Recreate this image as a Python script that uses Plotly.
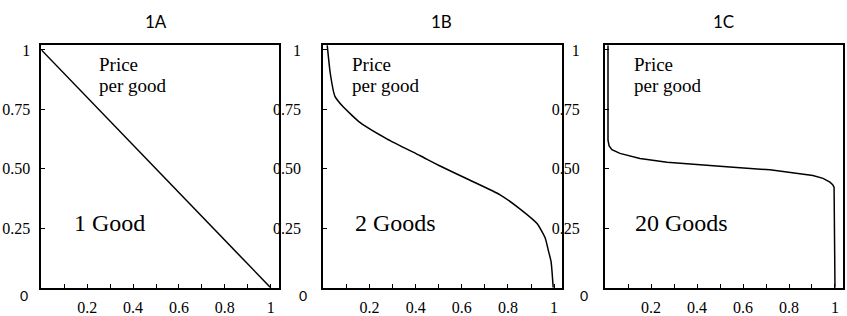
import plotly.graph_objects as go

# ---- data ----
titles = ["1A", "1B", "1C"]
labels = ["1 Good", "2 Goods", "20 Goods"]

share_1 = [0.0, 1.0]
price_1 = [1.0, 0.0]

share_2 = [0.017, 0.03, 0.05, 0.085, 0.16, 0.277, 0.42, 0.506, 0.636, 0.766, 0.853,
           0.926, 0.961, 0.974, 0.987, 0.996]
price_2 = [1.02, 0.903, 0.806, 0.762, 0.694, 0.625, 0.555, 0.512, 0.452, 0.391, 0.331,
           0.27, 0.21, 0.161, 0.109, 0.0]

share_20 = [0.013, 0.013, 0.018, 0.03, 0.065, 0.152, 0.27, 0.413, 0.543, 0.717, 0.904,
            0.948, 0.978, 0.99, 0.996, 1.0]
price_20 = [1.02, 0.621, 0.596, 0.581, 0.565, 0.544, 0.528, 0.516, 0.508, 0.496, 0.472,
            0.46, 0.444, 0.433, 0.423, 0.0]

x_tickvals = [0.1, 0.2, 0.3, 0.4, 0.5, 0.6, 0.7, 0.8, 0.9, 1.0]
x_ticktext = ["", "0.2", "", "0.4", "", "0.6", "", "0.8", "", "1"]
y_tickvals = [0.25, 0.5, 0.75, 1.0]
y_ticktext = ["0.25", "0.50", "0.75", "1"]

series = [(share_1, price_1), (share_2, price_2), (share_20, price_20)]

# ---- layout geometry ----
W, H = 847, 316
x_domains = [[0.04888, 0.32975], [0.3817, 0.6632], [0.7143, 0.9956]]
x_ranges = [[0, 1.0375], [0, 1.033], [0, 1.036]]
y_domain = [0.0601, 0.8608]
y_range = [0, 1.02]
y_standoff = [6, 17, 20]
title_x = [0.1838, 0.5207, 0.8542]
zero_x = [0.028, 0.358, 0.689]
price_x = [0.244, 0.116, 0.116]
label_x = [0.132, 0.127, 0.123]
line_shape = ["linear", "spline", "linear"]

serif = "Liberation Serif, Times New Roman, serif"
sans = "Lato, Carlito, sans-serif"

fig = go.Figure()
layout = dict(
    width=W, height=H, margin=dict(l=0, r=0, t=0, b=0),
    paper_bgcolor="white", plot_bgcolor="white", showlegend=False,
)
annotations = []
for i, (xs, ys) in enumerate(series):
    n = "" if i == 0 else str(i + 1)
    fig.add_trace(go.Scatter(x=xs, y=ys, mode="lines", xaxis="x" + n, yaxis="y" + n,
                             line=dict(color="black", width=1.5, shape=line_shape[i],
                                       smoothing=0.5),
                             hoverinfo="skip"))
    layout["xaxis" + n] = dict(
        domain=x_domains[i], range=x_ranges[i], anchor="y" + n,
        showgrid=False, zeroline=False, showline=True, mirror=True,
        linecolor="black", linewidth=2, ticks="inside", ticklen=4, tickwidth=1.3,
        tickcolor="black", tickvals=x_tickvals, ticktext=x_ticktext,
        ticklabelstandoff=4,
        tickfont=dict(family=serif, size=16, color="black"),
    )
    layout["yaxis" + n] = dict(
        domain=y_domain, range=y_range, anchor="x" + n,
        showgrid=False, zeroline=False, showline=True, mirror=True,
        linecolor="black", linewidth=2, ticks="inside", ticklen=4, tickwidth=1.3,
        tickcolor="black", tickvals=y_tickvals, ticktext=y_ticktext,
        ticklabelstandoff=y_standoff[i],
        tickfont=dict(family=serif, size=16, color="black"),
    )
    xr, yr = "x" + n, "y" + n
    annotations += [
        dict(text=titles[i], x=title_x[i], y=0.94, xref="paper", yref="paper",
             xanchor="center", yanchor="middle",
             showarrow=False, font=dict(family=sans, size=17, color="black")),
        dict(text="0", x=zero_x[i], y=0.0, xref="paper", yref="paper",
             xanchor="center", yanchor="bottom",
             showarrow=False, font=dict(family=sans, size=14, color="black")),
        dict(text="Price", x=price_x[i], y=0.94, xref=xr, yref=yr,
             xanchor="left", yanchor="middle",
             showarrow=False, font=dict(family=serif, size=19, color="black")),
        dict(text="per good", x=price_x[i], y=0.85, xref=xr, yref=yr,
             xanchor="left", yanchor="middle",
             showarrow=False, font=dict(family=serif, size=19, color="black")),
        dict(text=labels[i], x=label_x[i], y=0.272, xref=xr, yref=yr,
             xanchor="left", yanchor="middle",
             showarrow=False, font=dict(family=serif, size=24, color="black")),
    ]
layout["annotations"] = annotations
fig.update_layout(**layout)
fig.write_html("out.html", config={"displayModeBar": False},
               post_script="document.body.style.margin='0px';document.body.style.padding='0px';")
